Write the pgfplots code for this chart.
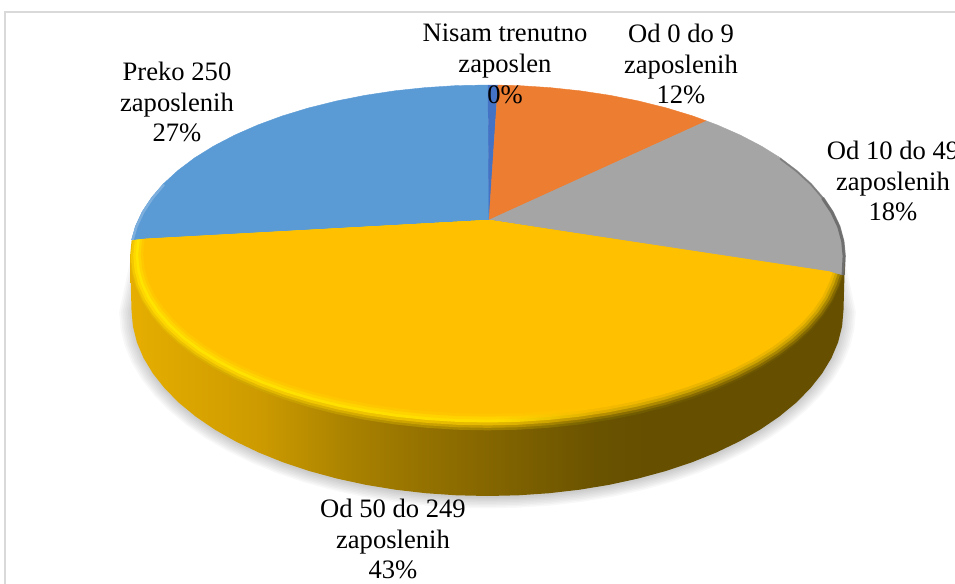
\documentclass[border=0pt]{standalone}
\usepackage{pgfplots}
\usepackage{pgfplotstable}
\usepackage{fontspec}
\setmainfont{Liberation Serif}
\pgfplotsset{compat=1.18}

\definecolor{frameline}{HTML}{D9D9D9}
\definecolor{sliceA}{HTML}{4472C4}
\definecolor{sliceB}{HTML}{ED7D31}
\definecolor{sliceC}{HTML}{A5A5A5}
\definecolor{sliceD}{HTML}{FFC000}
\definecolor{sliceE}{HTML}{5B9BD5}

% Side wall: colour runs from lit gold on the left to dark olive on the right.
\definecolor{wa}{HTML}{E6AE00}
\definecolor{wb}{HTML}{CD9B00}
\definecolor{wc}{HTML}{AA8200}
\definecolor{wd}{HTML}{967300}
\definecolor{we}{HTML}{826400}
\definecolor{wf}{HTML}{695200}
\definecolor{wg}{HTML}{665000}
\pgfdeclarehorizontalshading{wall}{100bp}{color(0bp)=(wa);color(25bp)=(wa);color(34bp)=(wb);color(40.3bp)=(wc);color(45.2bp)=(wd);color(50.8bp)=(we);color(57.8bp)=(wf);color(61.3bp)=(wg);color(100bp)=(wg)}

% Rim of the rounded edge, one horizontal shading per nested layer.
\newcommand\rimshade[5]{%
  \definecolor{#1a}{HTML}{#2}\definecolor{#1b}{HTML}{#3}%
  \definecolor{#1c}{HTML}{#4}\definecolor{#1d}{HTML}{#5}%
  \pgfdeclarehorizontalshading{#1}{100bp}{color(0bp)=(#1a);color(25bp)=(#1a);color(50.8bp)=(#1b);color(57.8bp)=(#1c);color(64bp)=(#1d);color(100bp)=(#1d)}}
\rimshade{rimO}{E8B800}{A08000}{746000}{6C5600}
\rimshade{rimA}{F4C800}{C09800}{8C7000}{866A00}
\rimshade{rimB}{FFD800}{E4B800}{B89000}{A88600}
\rimshade{rimC}{FFE400}{FFDC00}{E0AE00}{CFA400}
\rimshade{rimD}{FFD400}{FFD200}{F5BA00}{ECB500}
\rimshade{rimE}{FFC800}{FFC600}{FFC000}{FFC000}

\pgfplotstableread{
x y
843.3 275
839.6 285.7
832.8 300.3
823.4 314.5
811.5 328.3
797.1 341.5
780.4 354.1
761.4 365.9
740.3 376.9
717.3 387
692.6 396.1
666.3 404.1
638.6 411
609.8 416.7
580 421.2
549.6 424.4
518.7 426.4
487.5 427
456.3 426.4
425.4 424.4
395 421.2
365.2 416.7
336.4 411
308.7 404.1
282.4 396.1
257.7 387
234.7 376.9
213.6 365.9
194.6 354.1
177.9 341.5
163.5 328.3
151.6 314.5
142.2 300.3
135.4 285.7
131.4 270.9
130 256
131.6 240
489 220
}\goldslice

\pgfplotstableread{
x y
845 256
843.5 310
842.1 326.2
838.1 342.3
831.4 358.1
822 373.6
810.1 388.6
795.8 403
779.1 416.7
760.2 429.6
739.2 441.5
716.3 452.5
691.7 462.4
665.5 471.1
637.9 478.6
609.3 484.8
579.6 489.7
549.3 493.2
518.5 495.3
487.5 496
456.5 495.3
425.7 493.2
395.4 489.7
365.7 484.8
337.1 478.6
309.5 471.1
283.3 462.4
258.7 452.5
235.8 441.5
214.8 429.6
195.9 416.7
179.2 403
164.9 388.6
153 373.6
143.6 358.1
136.9 342.3
132.9 326.2
131.5 310
130 256
}\wallshape

\pgfplotstableread{
x y
843.5 310
842.1 326.2
838.1 342.3
831.4 358.1
822 373.6
810.1 388.6
795.8 403
779.1 416.7
760.2 429.6
739.2 441.5
716.3 452.5
691.7 462.4
665.5 471.1
637.9 478.6
609.3 484.8
579.6 489.7
549.3 493.2
518.5 495.3
487.5 496
456.5 495.3
425.7 493.2
395.4 489.7
365.7 484.8
337.1 478.6
309.5 471.1
283.3 462.4
258.7 452.5
235.8 441.5
214.8 429.6
195.9 416.7
179.2 403
164.9 388.6
153 373.6
143.6 358.1
136.9 342.3
132.9 326.2
131.5 310
142 262
175 200
487 150
800 200
833 262
}\shadowshape

\begin{document}
\begin{tikzpicture}[x=1pt,y=1pt]
\useasboundingbox (0,0) rectangle (477.5pt,292pt);
\begin{axis}[
  at={(0,0)}, anchor=south west,
  width=477.5pt, height=292pt, scale only axis,
  xmin=0, xmax=955, ymin=0, ymax=584, y dir=reverse,
  hide axis, clip=true,
]
% chart frame
\addplot[frameline, line width=0.7pt, forget plot] coordinates {(5,584) (5,12) (955,12)};

% soft shadow under the disc
\pgfplotsinvokeforeach{1.000,1.008,1.016,1.024,1.032,1.040,1.048,1.056}{
  \addplot[draw=none, fill=black, fill opacity=0.028, forget plot]
    table[x expr={487.5+(\thisrow{x}-487.5)*(1+(#1-1)*0.62)},
          y expr={310+(\thisrow{y}-310)*#1+2}] {\shadowshape} -- cycle;
}

% side wall
\addplot[draw=none, shading=wall, shade, forget plot] table {\wallshape} -- cycle;

% top faces
\addplot[draw=sliceE, fill=sliceE, line width=0.2pt, forget plot] coordinates {
  (489,220) (131.6,240) (135.4,226.3) (142.2,211.7) (151.6,197.5) (163.5,183.7)
  (177.9,170.5) (194.6,157.9) (213.6,146.1) (234.7,135.1) (257.7,125) (282.4,115.9)
  (308.7,107.9) (336.4,101) (365.2,95.3) (395,90.8) (425.4,87.6) (456.3,85.6) (488,85)
} -- cycle;
\addplot[draw=sliceA, fill=sliceA, line width=0.2pt, forget plot] coordinates {
  (489,220) (488,85) (498,85.1)
} -- cycle;
\addplot[draw=sliceB, fill=sliceB, line width=0.2pt, forget plot] coordinates {
  (489,220) (498,85.1) (518.7,85.6) (549.6,87.6) (580,90.8) (609.8,95.3) (638.6,101)
  (666.3,107.9) (692.6,115.9) (706.6,121)
} -- cycle;
\addplot[draw=sliceC, fill=sliceC, line width=0.2pt, forget plot] coordinates {
  (489,220) (706.6,121) (717.3,125) (740.3,135.1) (761.4,146.1) (780.4,157.9)
  (797.1,170.5) (811.5,183.7) (823.4,197.5) (832.8,211.7) (839.6,226.3)
  (843.6,241.1) (845,256) (843.3,275)
} -- cycle;

% rim highlights on the blue and grey edges
\addplot[sliceE!80!white, line width=1.2pt, forget plot] coordinates {
  (132.5,240) (136.5,226.5) (143.2,212.2) (152.6,198) (164,184.5)};
\addplot[black!65, line width=1.6pt, opacity=0.7, forget plot] coordinates {
  (843.2,275) (844.2,256) (842.8,241.3) (838.8,226.6) (832,212.2) (822.6,198)};
\addplot[black!65, line width=0.8pt, opacity=0.5, forget plot] coordinates {
  (822.6,198) (810.7,184.2) (796.5,171.2) (780,158.6)};

% gold slice, nested layers give the rounded rim
\addplot[draw=none, shading=rimO, shade, forget plot]
  table[x expr={489+(\thisrow{x}-489)*1.0}, y expr={220+(\thisrow{y}-220)*1.016}] {\goldslice} -- cycle;
\addplot[draw=none, shading=rimA, shade, forget plot]
  table[x expr={489+(\thisrow{x}-489)*0.997}, y expr={220+(\thisrow{y}-220)*1.004}] {\goldslice} -- cycle;
\addplot[draw=none, shading=rimB, shade, forget plot]
  table[x expr={489+(\thisrow{x}-489)*0.991}, y expr={220+(\thisrow{y}-220)*0.992}] {\goldslice} -- cycle;
\addplot[draw=none, shading=rimC, shade, forget plot]
  table[x expr={489+(\thisrow{x}-489)*0.984}, y expr={220+(\thisrow{y}-220)*0.978}] {\goldslice} -- cycle;
\addplot[draw=none, shading=rimD, shade, forget plot]
  table[x expr={489+(\thisrow{x}-489)*0.977}, y expr={220+(\thisrow{y}-220)*0.964}] {\goldslice} -- cycle;
\addplot[draw=none, shading=rimE, shade, forget plot]
  table[x expr={489+(\thisrow{x}-489)*0.970}, y expr={220+(\thisrow{y}-220)*0.950}] {\goldslice} -- cycle;
\addplot[draw=none, fill=sliceD, forget plot]
  table[x expr={489+(\thisrow{x}-489)*0.963}, y expr={220+(\thisrow{y}-220)*0.936}] {\goldslice} -- cycle;

% data labels
\tikzset{pielabel/.style={align=center, anchor=center, inner sep=0pt, font=\fontsize{13.3pt}{15.4pt}\selectfont, text=black}}
\node[pielabel] at (axis cs:505,64) {Nisam trenutno\\zaposlen\\0\%};
\node[pielabel] at (axis cs:681,64) {Od 0 do 9\\zaposlenih\\12\%};
\node[pielabel] at (axis cs:893,181) {Od 10 do 49\\zaposlenih\\18\%};
\node[pielabel] at (axis cs:393,539) {Od 50 do 249\\zaposlenih\\43\%};
\node[pielabel] at (axis cs:177,102) {Preko 250\\zaposlenih\\27\%};
\end{axis}
\end{tikzpicture}
\end{document}
